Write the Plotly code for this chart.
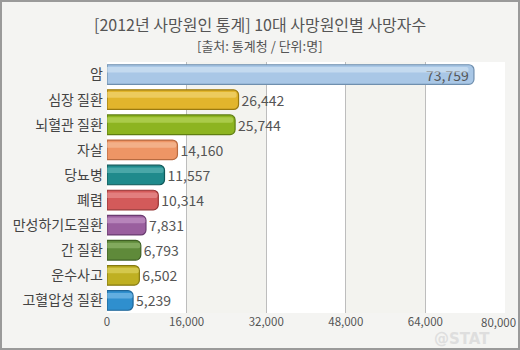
import plotly.graph_objects as go

categories = ["암", "심장 질환", "뇌혈관 질환", "자살", "당뇨병", "폐렴",
              "만성하기도질환", "간 질환", "운수사고", "고혈압성 질환"]
deaths = [73759, 26442, 25744, 14160, 11557, 10314, 7831, 6793, 6502, 5239]
bar_colors = ["#a9c7e6", "#e2b52c", "#8db420", "#ee9565", "#1f8a8c", "#d35a5a",
              "#9a5f9e", "#5f8a3a", "#bfb022", "#2f8fce"]
edge_colors = ["#6f8fae", "#9a7a10", "#5f7e10", "#b86a40", "#10595a", "#963434",
               "#6a3c70", "#3f6024", "#857a10", "#1d6496"]
highlight_colors = ["#dbe9f6", "#f6dc86", "#c2df6c", "#f8c6a6", "#6cc0c0", "#ef9e9e",
                    "#cfa3d2", "#9cc27a", "#e6dc70", "#8cc8ef"]
tick_values = [0, 16000, 32000, 48000, 64000, 80000]
tick_labels = ["0", "16,000", "32,000", "48,000", "64,000", "80,000"]

title_text = "[2012년 사망원인 통계] 10대 사망원인별 사망자수"
subtitle_text = "[출처: 통계청 / 단위:명]"

font_family = "Noto Sans CJK KR, Noto Sans, sans-serif"

L, R, T, B = 107, 15, 62, 37
PW, PH = 520 - L - R, 350 - T - B

fig = go.Figure()

labels = [f"{v:,}" for v in deaths]
positions = ["inside"] + ["outside"] * (len(deaths) - 1)

fig.add_trace(go.Bar(
    y=categories, x=deaths, orientation="h",
    marker=dict(color=bar_colors, line=dict(color=edge_colors, width=1.2)),
    width=0.78,
    text=labels, textposition=positions, insidetextanchor="end",
    textfont=dict(size=14, color="#555555", family=font_family),
    cliponaxis=False, hoverinfo="skip", showlegend=False,
))
# glossy highlight band
fig.add_trace(go.Bar(
    y=categories, x=[v * 0.985 for v in deaths], orientation="h",
    marker=dict(color=highlight_colors, opacity=0.55, line=dict(width=0)),
    width=0.22, offset=-0.3,
    hoverinfo="skip", showlegend=False,
))

shapes = []
for i in range(len(tick_values) - 1):
    if i % 2 == 1:
        shapes.append(dict(type="rect", xref="x", yref="paper",
                           x0=tick_values[i], x1=tick_values[i + 1], y0=0, y1=1,
                           fillcolor="#f3f3ef", line=dict(width=0), layer="below"))
shapes.append(dict(type="rect", xref="paper", yref="paper",
                   x0=-(L - 1) / PW, x1=1 + (R - 1) / PW, y0=-(B - 1) / PH, y1=1 + (T - 1) / PH,
                   line=dict(color="#9a9a9a", width=2), fillcolor="rgba(0,0,0,0)"))

# last tick label placed so it stays inside the frame
shown_ticktext = tick_labels[:-1] + [""]

fig.update_layout(
    width=520, height=350,
    margin=dict(l=L, r=R, t=T, b=B, autoexpand=False),
    paper_bgcolor="#f4f4f2", plot_bgcolor="#ffffff",
    barmode="overlay", barcornerradius=5,
    uniformtext=dict(minsize=14, mode="show"),
    font=dict(family=font_family, color="#555555"),
    shapes=shapes,
    annotations=[
        dict(text=title_text, x=(260 - L) / PW, y=1 + (T - 24) / PH,
             xref="paper", yref="paper", yanchor="middle", xanchor="center",
             showarrow=False, font=dict(size=16, color="#555555", family=font_family)),
        dict(text=subtitle_text, x=(260 - L) / PW, y=1 + (T - 45) / PH,
             xref="paper", yref="paper", yanchor="middle", xanchor="center",
             showarrow=False, font=dict(size=13, color="#555555", family=font_family)),
        dict(text="<b>@STAT</b>", x=(462 - L) / PW, y=-(339 - T - PH) / PH,
             xref="paper", yref="paper", yanchor="middle", xanchor="center",
             showarrow=False, font=dict(size=15, color="#dedede", family="DejaVu Sans")),
        dict(text=tick_labels[-1], x=(518 - L) / PW, y=-(322 - T - PH) / PH,
             xref="paper", yref="paper", yanchor="middle", xanchor="right",
             showarrow=False, font=dict(size=11.5, color="#555555", family=font_family)),
    ],
)

fig.update_xaxes(range=[0, 80000], tickvals=tick_values, ticktext=shown_ticktext,
                 showgrid=True, gridcolor="#bdbdbd", gridwidth=1, zeroline=False,
                 tickfont=dict(size=11.5, color="#555555"), ticks="",
                 automargin=False, fixedrange=True)
fig.update_yaxes(autorange="reversed", showgrid=False, ticks="", automargin=False,
                 tickfont=dict(size=14, color="#444444"), ticksuffix=" ")

fig.write_html("out.html")
